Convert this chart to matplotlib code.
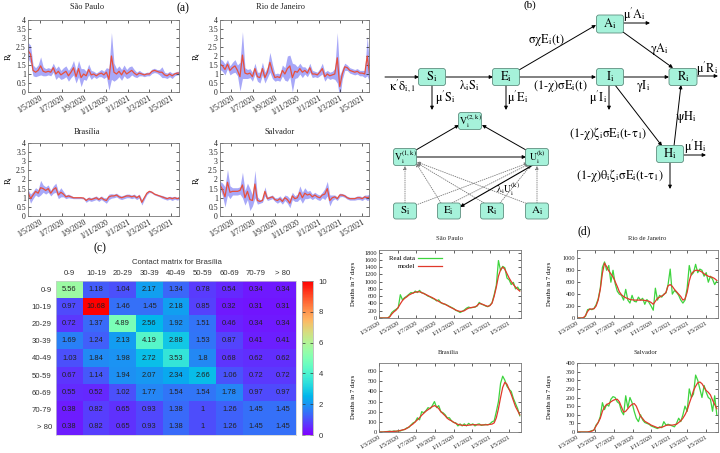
import numpy as np
import pandas as pd
import matplotlib
matplotlib.use('Agg')
import matplotlib.pyplot as plt
from matplotlib.patches import FancyBboxPatch
from matplotlib.ticker import MultipleLocator, FuncFormatter

# ---------------- data ----------------
rt_start = '2020-03-30'
rt_sp_mean = [2.3, 2.1, 1.2, 1.1, 1.2, 1.45, 1.15, 1.1, 1.15, 1.1,
              1.35, 1.0, 1.15, 0.95, 1.05, 1.15, 0.9, 1.1, 1.35, 0.85,
              1.3, 0.8, 1.0, 0.9, 1.25, 0.95, 1.0, 0.9, 1.0, 1.05,
              0.95, 1.1, 0.7, 2.0, 1.1, 1.0, 1.15, 0.95, 1.2, 1.0,
              1.1, 1.2, 1.05, 0.95, 1.05, 1.0, 0.95, 1.0, 1.0, 1.15,
              1.2, 1.15, 1.1, 1.1, 0.95, 0.9, 1.0, 0.9, 1.0, 1.05, 1.05]
rt_sp_hw = [0.45, 0.5, 0.3, 0.25, 0.3, 0.5, 0.25, 0.2, 0.2, 0.2,
            0.25, 0.3, 0.3, 0.25, 0.3, 0.3, 0.3, 0.3, 0.4, 0.35,
            0.45, 0.5, 0.3, 0.25, 0.3, 0.25, 0.15, 0.15, 0.15, 0.2,
            0.2, 0.25, 0.6, 1.3, 0.5, 0.3, 0.3, 0.3, 0.3, 0.25,
            0.3, 0.25, 0.2, 0.15, 0.15, 0.1, 0.1, 0.1, 0.1, 0.12,
            0.12, 0.1, 0.15, 0.3, 0.15, 0.15, 0.15, 0.15, 0.1, 0.1, 0.1]
rt_rj_mean = [1.55, 1.45, 1.25, 1.55, 1.2, 1.35, 1.45, 1.2, 0.85, 2.05,
              1.05, 1.0, 1.05, 0.85, 1.3, 0.85, 0.8, 1.3, 0.8, 1.1,
              1.65, 1.15, 0.8, 0.85, 0.8, 1.2, 1.0, 1.3, 1.45, 0.8,
              1.15, 1.1, 1.3, 1.1, 1.2, 1.05, 1.35, 1.0, 1.0, 0.95,
              1.1, 1.3, 0.85, 1.0, 0.9, 0.95, 1.0, 1.9, 0.3, 1.0,
              1.4, 1.35, 1.2, 1.15, 1.1, 1.15, 1.05, 1.05, 1.0, 2.0, 0.9]
rt_rj_hw = [0.3, 0.3, 0.3, 0.25, 0.25, 0.3, 0.35, 0.3, 0.8, 1.3,
            0.3, 0.25, 0.25, 0.25, 0.3, 0.25, 0.3, 0.35, 0.3, 0.3,
            0.55, 0.4, 0.2, 0.2, 0.2, 0.3, 0.35, 0.7, 0.6, 0.8,
            0.4, 0.3, 0.3, 0.3, 0.2, 0.2, 0.25, 0.2, 0.15, 0.15,
            0.2, 0.3, 0.25, 0.2, 0.2, 0.2, 0.3, 1.4, 0.6, 0.3,
            0.2, 0.15, 0.15, 0.15, 0.15, 0.15, 0.15, 0.15, 0.2, 1.1, 0.4]
rt_bsb_mean = [1.3, 0.95, 1.15, 1.35, 1.25, 1.55, 1.5, 1.4, 1.5, 1.25,
               1.45, 1.55, 1.15, 1.3, 1.2, 1.05, 1.1, 1.05, 1.0, 1.0,
               1.0, 1.0, 0.98, 0.85, 0.95, 0.9, 0.95, 1.0, 0.9, 1.0,
               0.9, 0.85, 1.05, 1.1, 1.1, 1.15, 1.05, 1.0, 1.05, 1.1,
               1.1, 1.05, 1.1, 1.0, 1.1, 0.75, 1.0, 1.25, 1.35, 1.3,
               1.2, 1.15, 1.1, 1.05, 1.0, 0.95, 1.0, 0.95, 1.0, 0.95, 1.0]
rt_bsb_hw = [0.15, 0.25, 0.2, 0.2, 0.2, 0.4, 0.2, 0.2, 0.2, 0.15,
             0.2, 0.25, 0.2, 0.25, 0.15, 0.1, 0.1, 0.08, 0.05, 0.05,
             0.05, 0.05, 0.05, 0.1, 0.1, 0.1, 0.1, 0.1, 0.1, 0.1,
             0.1, 0.15, 0.15, 0.12, 0.1, 0.1, 0.1, 0.1, 0.1, 0.1,
             0.1, 0.1, 0.1, 0.1, 0.1, 0.15, 0.1, 0.08, 0.06, 0.05,
             0.05, 0.05, 0.05, 0.08, 0.08, 0.08, 0.08, 0.1, 0.08, 0.08, 0.08]
rt_ssa_mean = [1.7, 1.45, 1.05, 1.85, 1.3, 1.35, 1.35, 1.35, 1.4, 1.7,
               1.0, 1.35, 0.9, 0.85, 1.75, 0.85, 0.8, 0.85, 1.35, 0.95,
               1.0, 1.05, 0.9, 0.85, 0.95, 0.8, 1.0, 0.9, 0.7, 1.1,
               0.95, 1.0, 1.3, 1.0, 1.25, 1.15, 1.2, 1.05, 1.15, 1.05,
               1.0, 1.15, 1.2, 1.5, 0.85, 1.0, 1.05, 0.95, 1.15, 1.15,
               1.1, 1.0, 0.95, 0.95, 0.95, 1.0, 1.0, 0.95, 1.05, 1.0, 1.05]
rt_ssa_hw = [0.2, 0.35, 0.55, 0.7, 0.35, 0.2, 0.2, 0.2, 0.2, 0.7,
             0.4, 0.45, 0.6, 0.3, 0.75, 0.2, 0.1, 0.1, 0.25, 0.1,
             0.1, 0.1, 0.1, 0.15, 0.15, 0.15, 0.15, 0.2, 0.25, 0.2,
             0.15, 0.2, 0.35, 0.3, 0.3, 0.2, 0.2, 0.15, 0.15, 0.15,
             0.15, 0.15, 0.3, 0.4, 0.3, 0.15, 0.1, 0.1, 0.1, 0.08,
             0.08, 0.08, 0.08, 0.08, 0.08, 0.1, 0.1, 0.1, 0.1, 0.15, 0.15]

d_start = '2020-03-01'
d_sp_model = [0, 0, 0, 0, 0, 30, 110, 170, 215, 290,
              390, 480, 540, 580, 630, 660, 690, 710, 720, 720,
              700, 670, 645, 615, 585, 560, 525, 490, 455, 425,
              400, 375, 345, 310, 280, 250, 220, 195, 180, 185,
              200, 240, 270, 285, 295, 305, 340, 400, 390, 365,
              340, 320, 340, 410, 600, 850, 1150, 1330, 1400, 1340,
              1220, 1100, 1000, 920, 850, 790, 740]
d_sp_real = [0, 0, 0, 0, 0, 40, 150, 200, 240, 280,
             640, 500, 560, 600, 650, 700, 680, 740, 700, 760,
             690, 680, 640, 600, 580, 540, 520, 470, 500, 420,
             390, 380, 350, 320, 290, 260, 210, 190, 150, 180,
             220, 270, 300, 280, 290, 300, 330, 430, 380, 360,
             330, 310, 350, 420, 640, 900, 1580, 1300, 1420, 1380,
             1100, 1050, 920, 980, 800, 850, 760]
d_rj_model = [0, 0, 0, 5, 40, 110, 150, 150, 155, 200,
              300, 480, 750, 920, 860, 790, 740, 690, 610, 530,
              440, 390, 360, 340, 325, 310, 305, 300, 300, 300,
              300, 300, 295, 290, 280, 260, 230, 280, 330, 350,
              370, 390, 430, 540, 560, 530, 480, 440, 400, 360,
              300, 320, 430, 620, 740, 780, 800, 800, 790, 770,
              740, 720, 700, 690, 680, 660, 630]
d_rj_real = [0, 0, 0, 0, 30, 140, 150, 140, 160, 220,
             320, 500, 850, 940, 800, 880, 600, 800, 580, 450,
             400, 380, 300, 480, 300, 250, 380, 280, 270, 350,
             300, 330, 230, 310, 260, 200, 130, 500, 300, 380,
             350, 400, 420, 560, 820, 400, 460, 430, 380, 300,
             250, 300, 500, 880, 720, 760, 900, 760, 820, 800,
             700, 760, 600, 700, 650, 560, 620]
d_bsb_model = [0, 0, 0, 2, 3, 5, 5, 6, 8, 10,
               15, 20, 25, 35, 50, 65, 80, 100, 120, 140,
               165, 185, 205, 220, 235, 250, 260, 250, 230, 200,
               180, 160, 135, 120, 110, 95, 85, 75, 70, 67,
               65, 65, 67, 70, 72, 72, 70, 70, 70, 70,
               70, 72, 75, 78, 90, 140, 230, 340, 440, 490,
               470, 420, 370, 310, 250, 210, 170]
d_bsb_real = [0, 0, 0, 3, 5, 8, 4, 10, 6, 12,
              10, 20, 25, 40, 45, 70, 90, 100, 140, 120,
              200, 190, 210, 240, 230, 260, 300, 240, 260, 200,
              190, 170, 140, 140, 110, 95, 90, 60, 80, 60,
              80, 60, 85, 70, 80, 60, 75, 80, 65, 70,
              75, 70, 80, 100, 110, 200, 300, 480, 550, 510,
              450, 420, 400, 330, 280, 230, 160]
d_ssa_model = [0, 0, 0, 0, 0, 0, 2, 5, 12, 35,
               55, 80, 120, 145, 160, 165, 175, 183, 188, 190,
               175, 145, 115, 120, 135, 150, 160, 165, 150, 120,
               90, 78, 62, 55, 48, 40, 35, 30, 25, 25,
               28, 32, 38, 40, 40, 40, 42, 45, 55, 65,
               80, 100, 125, 165, 200, 240, 265, 285, 290, 280,
               260, 240, 230, 215, 185, 160, 135]
d_ssa_real = [0, 0, 0, 0, 0, 0, 3, 8, 10, 40,
              55, 90, 170, 130, 160, 150, 190, 205, 200, 175,
              165, 120, 100, 210, 140, 200, 170, 120, 80, 60,
              100, 70, 55, 50, 45, 35, 30, 25, 20, 30,
              25, 60, 40, 45, 40, 35, 30, 50, 80, 60,
              100, 150, 120, 250, 200, 220, 330, 300, 250, 200,
              270, 230, 200, 190, 120, 210, 100]

age_groups = ['0-9', '10-19', '20-29', '30-39', '40-49', '50-59', '60-69', '70-79', '> 80']
contact_matrix = [
    [5.56, 1.18, 1.04, 2.17, 1.34, 0.78, 0.54, 0.34, 0.34],
    [0.97, 10.68, 1.46, 1.45, 2.18, 0.85, 0.32, 0.31, 0.31],
    [0.72, 1.37, 4.89, 2.56, 1.92, 1.51, 0.46, 0.34, 0.34],
    [1.69, 1.24, 2.13, 4.19, 2.88, 1.53, 0.87, 0.41, 0.41],
    [1.03, 1.84, 1.98, 2.72, 3.53, 1.8, 0.68, 0.62, 0.62],
    [0.67, 1.14, 1.94, 2.07, 2.34, 2.66, 1.06, 0.72, 0.72],
    [0.55, 0.52, 1.02, 1.77, 1.54, 1.54, 1.78, 0.97, 0.97],
    [0.38, 0.82, 0.65, 0.93, 1.38, 1, 1.26, 1.45, 1.45],
    [0.38, 0.82, 0.65, 0.93, 1.38, 1, 1.26, 1.45, 1.45],
]
rt_ticks = ['2020-05-01', '2020-07-01', '2020-09-01', '2020-11-01',
            '2021-01-01', '2021-03-01', '2021-05-01']
d_ticks = ['2020-03-01'] + rt_ticks

# ---------------- figure ----------------
plt.rcParams['font.family'] = ['Liberation Serif', 'DejaVu Serif']
plt.rcParams['mathtext.fontset'] = 'stix'
plt.rcParams['mathtext.default'] = 'rm'
SANS = ['Liberation Sans', 'DejaVu Sans']
W, H = 720, 453
fig = plt.figure(figsize=(7.2, 4.53), dpi=100)
fig.patch.set_facecolor('white')


def add_ax(x0, y0, x1, y1):
    return fig.add_axes([x0 / W, 1 - y1 / H, (x1 - x0) / W, (y1 - y0) / H])


ax0 = fig.add_axes([0, 0, 1, 1])
ax0.set_xlim(0, W)
ax0.set_ylim(H, 0)
ax0.axis('off')


def datelabel(s):
    d = pd.Timestamp(s)
    return f"{d.day}/{d.month}/{d.year}"


def style(ax, fs):
    ax.tick_params(direction='in', top=True, right=True, length=2.5, width=0.5,
                   labelsize=fs, pad=1.5, colors='#222222')
    for s in ax.spines.values():
        s.set_linewidth(0.6)
        s.set_color('#777777')


def rt_panel(box, mean, hw):
    ax = add_ax(*box)
    dates = pd.date_range(rt_start, periods=len(mean), freq='7D')
    m = np.array(mean)
    h = np.array(hw)
    ax.fill_between(dates, m - h, m + h, color='#a8a8f8', lw=0)
    ax.plot(dates, m, color='#e8503c', lw=0.9)
    ax.set_xlim(pd.Timestamp('2020-03-30'), pd.Timestamp('2021-05-22'))
    ax.set_ylim(0, 4)
    ax.yaxis.set_major_locator(MultipleLocator(0.5))
    ax.yaxis.set_major_formatter(FuncFormatter(lambda v, p: f"{v:g}"))
    ax.set_xticks([pd.Timestamp(t) for t in rt_ticks])
    ax.set_xticklabels([datelabel(t) for t in rt_ticks], rotation=30, ha='right',
                       va='top', rotation_mode='anchor')
    style(ax, 5.6)
    return ax


def death_panel(box, real, model, ymax, ystep, legend=False):
    ax = add_ax(*box)
    dates = pd.date_range(d_start, periods=len(real), freq='7D')
    ax.plot(dates, real, color='#3ed43e', lw=0.9, label='Real data')
    ax.plot(dates, model, color='#e0392b', lw=0.9, label='model')
    ax.set_xlim(pd.Timestamp('2020-03-01'), pd.Timestamp('2021-06-10'))
    ax.set_ylim(0, ymax)
    ax.yaxis.set_major_locator(MultipleLocator(ystep))
    ax.set_xticks([pd.Timestamp(t) for t in d_ticks])
    ax.set_xticklabels([datelabel(t) for t in d_ticks], rotation=30, ha='right',
                       va='top', rotation_mode='anchor')
    style(ax, 4.6)
    if legend:
        ax.legend(loc='upper left', bbox_to_anchor=(0.03, 1.0), frameon=False,
                  markerfirst=False, fontsize=5, handlelength=3.4, labelspacing=0.25,
                  borderpad=0.3, handletextpad=0.5)
    return ax


# ----- panel (a) -----
rt_panel((28, 20, 179, 92), rt_sp_mean, rt_sp_hw)
rt_panel((220, 20, 369, 92), rt_rj_mean, rt_rj_hw)
rt_panel((28, 143, 179, 216), rt_bsb_mean, rt_bsb_hw)
rt_panel((220, 143, 369, 216), rt_ssa_mean, rt_ssa_hw)
for (x, y, t) in [(87, 7, 'São Paulo'), (280, 7, 'Rio de Janeiro'),
                  (87, 132, 'Brasília'), (280, 132, 'Salvador')]:
    ax0.text(x, y, t, ha='center', va='center', fontsize=6, color='#222222')
for (x, y) in [(9, 56), (197, 56), (9, 180), (197, 180)]:
    ax0.text(x, y, r'R$_\mathrm{t}$', ha='center', va='center', rotation=90, fontsize=6)
ax0.text(183, 8, '(a)', ha='center', va='center', fontsize=8.5)

# ----- panel (d) -----
death_panel((379, 250, 521, 318), d_sp_real, d_sp_model, 1870, 200, legend=True)
death_panel((577, 250, 718, 318), d_rj_real, d_rj_model, 1140, 200)
death_panel((379, 363, 521, 432), d_bsb_real, d_bsb_model, 680, 100)
death_panel((577, 363, 718, 432), d_ssa_real, d_ssa_model, 400, 50)
for (x, y, t) in [(449, 238, 'São Paulo'), (647, 238, 'Rio de Janeiro'),
                  (448, 352, 'Brasília'), (645, 352, 'Salvador')]:
    ax0.text(x, y, t, ha='center', va='center', fontsize=4.8, color='#222222')
for (x, y) in [(353, 284), (550, 284), (353, 397), (550, 397)]:
    ax0.text(x, y, 'Deaths in 7 days', ha='center', va='center', rotation=90, fontsize=4.8)
ax0.text(584, 231, '(d)', ha='center', va='center', fontsize=8.5)

# ----- panel (c) -----
axc = add_ax(56, 281, 296, 435)
cm = np.array(contact_matrix, dtype=float)
im = axc.imshow(cm, cmap='rainbow', vmin=0, vmax=10, aspect='auto', interpolation='nearest')
axc.set_xticks(range(len(age_groups)))
axc.set_xticklabels(age_groups, fontfamily=SANS)
axc.set_yticks(range(len(age_groups)))
axc.set_yticklabels(age_groups, fontfamily=SANS)
axc.xaxis.tick_top()
axc.tick_params(length=0, labelsize=5.6, pad=3, colors='#333333')
for s in axc.spines.values():
    s.set_color('#cccccc')
    s.set_linewidth(0.5)
for i in range(cm.shape[0]):
    for j in range(cm.shape[1]):
        axc.text(j, i, f"{cm[i, j]:g}", ha='center', va='center', fontsize=5.4,
                 color='#222222', family=SANS)
cax = add_ax(302, 281, 313, 435)
cb = fig.colorbar(im, cax=cax, ticks=range(0, 11, 2))
cax.tick_params(labelsize=5.6, direction='in', length=2.5, width=0.5, left=True,
                right=True, pad=4, colors='#333333')
for lab in cax.get_yticklabels():
    lab.set_family(SANS)
cb.outline.set_edgecolor('#aaaaaa')
cb.outline.set_linewidth(0.5)
ax0.text(177, 262, 'Contact matrix for Brasília', ha='center', va='center',
         fontsize=5.6, family=SANS, color='#333333')
ax0.text(100, 248, '(c)', ha='center', va='center', fontsize=8.5)

# ----- panel (b): model diagram -----
ax0.text(530, 5, '(b)', ha='center', va='center', fontsize=8)
FC, EC = '#a6f2da', '#5f8f80'


def box(cx, cy, w, h, label, fs=9):
    ax0.add_patch(FancyBboxPatch((cx - w / 2, cy - h / 2), w, h,
                                 boxstyle='round,pad=0,rounding_size=2.5',
                                 fc=FC, ec=EC, lw=0.6, zorder=3))
    ax0.text(cx, cy, label, ha='center', va='center', fontsize=fs, zorder=4)


def arrow(p0, p1, ls='-', color='k', lw=0.7):
    ax0.annotate('', xy=p1, xytext=p0, zorder=2,
                 arrowprops=dict(arrowstyle='-|>', lw=lw, color=color, ls=ls,
                                 mutation_scale=5, shrinkA=0, shrinkB=0))


def lab(x, y, t, fs=8.8):
    ax0.text(x, y, t, ha='center', va='center', fontsize=fs)


box(610, 24, 27, 18, r'$A_i$')
box(432, 77, 27, 17, r'$S_i$')
box(506, 77, 27, 17, r'$E_i$')
box(610, 77, 27, 17, r'$I_i$')
box(683, 77, 28, 17, r'$R_i$')
box(670, 154, 27, 17, r'$H_i$')
box(470, 121, 23, 17, r'$V_i^{(2,k)}$', fs=7)
box(405, 157, 23, 17, r'$V_i^{(1,k)}$', fs=7)
box(537, 157, 23, 17, r'$U_i^{(k)}$', fs=7)
for (x, t) in [(405, r'$S_i$'), (449, r'$E_i$'), (492, r'$R_i$'), (537, r'$A_i$')]:
    box(x, 211, 23, 16, t, fs=8)

arrow((385, 77), (419, 77))
lab(402, 86, r"$\kappa'\delta_{i,1}$")
arrow((446, 77), (493, 77))
lab(469, 86, r'$\lambda_i S_i$')
arrow((432, 85), (432, 110))
lab(445, 98, r"$\mu' S_i$")
arrow((506, 85), (506, 110))
lab(518, 98, r"$\mu' E_i$")
arrow((519, 70), (596, 25))
lab(546, 40, r'$\sigma\chi E_i(t)$')
arrow((519, 77), (596, 77))
lab(560, 86, r'$(1\text{-}\chi)\sigma E_i(t)$')
arrow((623, 77), (669, 77))
lab(643, 86, r'$\gamma I_i$')
arrow((609, 85), (609, 110))
lab(598, 98, r"$\mu' I_i$")
arrow((615, 85), (662, 146))
lab(608, 133, r'$(1\text{-}\chi)\zeta_i\sigma E_i(t\text{-}\tau_1)$')
arrow((623, 32), (673, 68))
lab(660, 49, r'$\gamma A_i$')
arrow((623, 23), (650, 23))
lab(634, 15, r"$\mu' A_i$")
arrow((697, 76), (718, 76))
lab(707, 69, r"$\mu' R_i$")
arrow((674, 146), (681, 85))
lab(686, 117, r'$\psi H_i$')
arrow((684, 155), (706, 155))
lab(695, 147, r"$\mu' H_i$")
arrow((670, 163), (670, 189))
lab(620, 176, r'$(1\text{-}\chi)\theta_i\zeta_i\sigma E_i(t\text{-}\tau_1)$')

arrow((416, 150), (459, 125))
arrow((526, 150), (482, 125))
arrow((416, 157), (526, 157))
GR = '#777777'
arrow((405, 203), (405, 166), ls=':', color=GR, lw=0.6)
arrow((416, 205), (528, 163), ls=':', color=GR, lw=0.6)
arrow((441, 203), (416, 163), ls=':', color=GR, lw=0.6)
arrow((452, 203), (529, 164), ls=':', color=GR, lw=0.6)
arrow((484, 203), (417, 163), ls=':', color=GR, lw=0.6)
arrow((500, 203), (531, 165), ls=':', color=GR, lw=0.6)
arrow((528, 204), (417, 162), ls=':', color=GR, lw=0.6)
arrow((537, 203), (537, 166), ls=':', color=GR, lw=0.6)
arrow((533, 165), (460, 207), lw=0.8)
lab(508, 189, r'$\lambda_i U_i^{(k)}$', fs=7)

fig.savefig('out.png', dpi=100, facecolor='white')
